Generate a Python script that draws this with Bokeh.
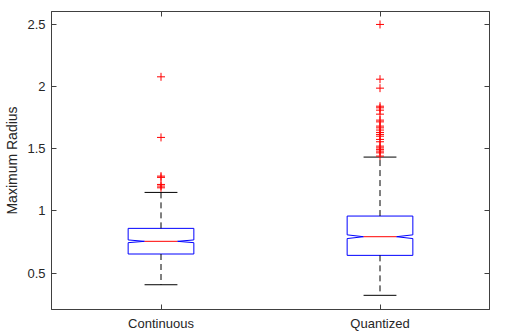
from bokeh.plotting import figure
from bokeh.models import Range1d, FixedTicker, LinearAxis
from bokeh.embed import file_html
from bokeh.resources import INLINE

# ---- data ----
categories = ["Continuous", "Quantized"]
positions = [1, 2]
q1 = [0.653, 0.642]
median = [0.755, 0.792]
q3 = [0.859, 0.958]
whisker_low = [0.406, 0.321]
whisker_high = [1.148, 1.432]
notch_half = [0.011, 0.015]
outliers_continuous = [2.077, 1.590, 1.279, 1.269, 1.212, 1.199, 1.185]
outliers_quantized = [2.498, 2.058, 1.986, 1.841, 1.828, 1.809, 1.777, 1.729,
                      1.715, 1.681, 1.667, 1.649, 1.630, 1.614, 1.600, 1.574,
                      1.555, 1.520, 1.506, 1.494, 1.480, 1.466, 1.440]
y_ticks = [0.5, 1, 1.5, 2, 2.5]
y_tick_labels = ["0.5", "1", "1.5", "2", "2.5"]

# ---- style ----
FONT = "Liberation Sans"
AX = "#404040"
W = 0.30  # box width in data units

p = figure(width=512, height=334, output_backend="svg", toolbar_location=None,
           x_range=Range1d(0.5, 2.5), y_range=Range1d(0.207, 2.602),
           min_border_left=51, min_border_right=23, min_border_top=11,
           min_border_bottom=25)
p.background_fill_color = "white"
p.border_fill_color = "white"
p.outline_line_color = AX
p.outline_line_width = 1
p.xgrid.grid_line_color = None
p.ygrid.grid_line_color = None

# boxes (notched)
xs, ys = [], []
for x, a, m, b, n in zip(positions, q1, median, q3, notch_half):
    xs.append([x - W / 2, x + W / 2, x + W / 2, x + W / 4, x + W / 2, x + W / 2,
               x - W / 2, x - W / 2, x - W / 4, x - W / 2])
    ys.append([a, a, m - n, m, m + n, b, b, m + n, m, m - n])
p.patches(xs, ys, fill_color=None, line_color="#0000ff", line_width=1)

# medians
p.segment(x0=[x - W / 4 for x in positions], x1=[x + W / 4 for x in positions],
          y0=median, y1=median, line_color="#ff0000", line_width=1)

# whiskers
p.segment(x0=positions, x1=positions, y0=q3, y1=whisker_high,
          line_color="black", line_width=1, line_dash="6 4")
p.segment(x0=positions, x1=positions, y0=q1, y1=whisker_low,
          line_color="black", line_width=1, line_dash="6 4")
p.segment(x0=[x - W / 4 for x in positions], x1=[x + W / 4 for x in positions],
          y0=whisker_high, y1=whisker_high, line_color="black", line_width=1)
p.segment(x0=[x - W / 4 for x in positions], x1=[x + W / 4 for x in positions],
          y0=whisker_low, y1=whisker_low, line_color="black", line_width=1)

# outliers
ox = [positions[0]] * len(outliers_continuous) + [positions[1]] * len(outliers_quantized)
oy = outliers_continuous + outliers_quantized
p.scatter(ox, oy, marker="cross", size=8, line_color="#ff0000", line_width=1)

# axes
def style_axis(ax):
    ax.axis_line_color = AX
    ax.major_tick_line_color = AX
    ax.major_tick_in = 5
    ax.major_tick_out = 0
    ax.minor_tick_line_color = None
    ax.major_label_text_font = FONT
    ax.major_label_text_color = "#262626"
    ax.major_label_text_font_size = "13px"

p.xaxis.ticker = FixedTicker(ticks=positions)
p.xaxis.major_label_overrides = {pos: c for pos, c in zip(positions, categories)}
style_axis(p.xaxis[0])
p.xaxis.major_label_standoff = 6

p.yaxis.ticker = FixedTicker(ticks=y_ticks)
p.yaxis.major_label_overrides = {t: l for t, l in zip(y_ticks, y_tick_labels)}
style_axis(p.yaxis[0])
p.yaxis.major_label_standoff = 6
p.yaxis.axis_label = "Maximum Radius"
p.yaxis.axis_label_text_font = FONT
p.yaxis.axis_label_text_font_style = "normal"
p.yaxis.axis_label_text_font_size = "14px"
p.yaxis.axis_label_text_color = "#262626"
p.yaxis.axis_label_standoff = 4

right = LinearAxis(ticker=FixedTicker(ticks=y_ticks),
                   major_label_overrides={t: "" for t in y_ticks})
style_axis(right)
right.major_label_standoff = 0
p.add_layout(right, "right")

top = LinearAxis(ticker=FixedTicker(ticks=positions),
                 major_label_overrides={t: "" for t in positions})
style_axis(top)
top.major_label_standoff = 0
p.add_layout(top, "above")

open("out.html", "w").write(file_html(p, INLINE))
